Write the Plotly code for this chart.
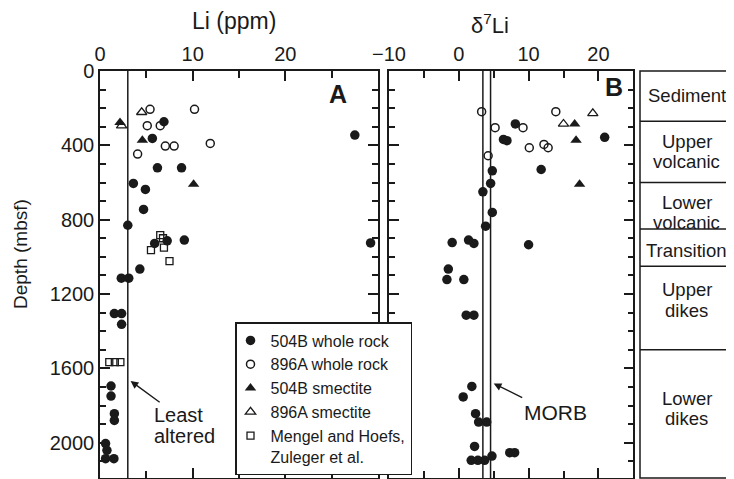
import plotly.graph_objects as go

# ---------------- data ----------------
# Panel A: Li (ppm) vs depth (mbsf)
a_wr504_li = [6.9, 27.5, 5.65, 6.2, 8.8, 3.6, 4.9, 4.7, 3.0, 5.9, 7.25, 9.1, 29.2, 4.3, 2.3, 3.1,
              1.55, 2.33, 2.33, 1.19, 1.19, 1.55, 1.55, 0.6, 0.75, 0.6, 1.5]
a_wr504_depth = [273, 345, 363, 521, 521, 605, 637, 745, 830, 928, 914, 910, 925, 1066, 1115, 1115,
                 1305, 1305, 1363, 1695, 1749, 1844, 1880, 2005, 2041, 2086, 2086]
a_wr896_li = [5.4, 10.2, 5.1, 6.5, 7.05, 8.0, 11.9, 4.06]
a_wr896_depth = [206, 206, 294, 294, 404, 404, 390, 447]
a_sm504_li = [2.16, 4.57, 10.1]
a_sm504_depth = [277, 372, 609]
a_sm896_li = [4.5, 2.33]
a_sm896_depth = [222, 294]
a_mh_li = [6.5, 6.8, 6.9, 5.5, 7.5, 1.0, 1.6, 2.2]
a_mh_depth = [883, 900, 950, 964, 1023, 1566, 1566, 1566]

# Panel B: d7Li vs depth (mbsf)
b_wr504_d7 = [8.1, 6.4, 6.9, 20.9, 11.8, 4.8, 4.56, 3.45, 4.8, 3.84, -0.95, 1.4, 2.16, 10.0, -1.5,
              -1.7, 0.72, 1.06, 2.16, 1.87, 0.63, 2.4, 2.84, 4.0, 2.26, 1.78, 2.73, 3.7, 4.75, 7.3, 8.0]
b_wr504_depth = [285, 368, 375, 357, 530, 537, 605, 650, 761, 835, 923, 910, 928, 935, 1066,
                 1122, 1122, 1314, 1314, 1697, 1754, 1844, 1889, 1889, 2020, 2095, 2095, 2095, 2072, 2054, 2054]
b_wr896_d7 = [3.27, 13.9, 9.2, 5.2, 10.1, 12.2, 12.8, 4.2]
b_wr896_depth = [219, 219, 305, 305, 413, 395, 413, 456]
b_sm504_d7 = [16.6, 16.8, 17.3]
b_sm504_depth = [285, 372, 609]
b_sm896_d7 = [19.2, 15.0]
b_sm896_depth = [228, 285]

least_altered_li = 3.0
morb_d7 = [3.45, 4.55]

zone_names = [["Sediment"], ["Upper", "volcanic"], ["Lower", "volcanic"], ["Transition"],
              ["Upper", "dikes"], ["Lower", "dikes"]]
zone_bounds = [0, 270, 600, 850, 1050, 1500]
zone_label_depth = [130, 434, 760, 968, 1232, 1815]

depth_ticks = [0, 400, 800, 1200, 1600, 2000]
li_ticks = [0, 10, 20]
d7_ticks = [-10, 0, 10, 20]

# ---------------- figure ----------------
# The page body has an 8 px margin, so the figure is sized/offset to compensate.
FONT = "Liberation Sans, Arial, Helvetica, sans-serif"
INK = "#1a1a1a"
DEPTH_MAX = 2190
W, H = 726, 471
ML, MT, MR, MB = 92, 63, 1, 1
PW = W - ML - MR   # 633
PH = H - MT - MB   # 407
OFF = 8


def px(sx):   # screen x -> paper x
    return (sx - OFF - ML) / PW


def py(sy):   # screen y -> paper y
    return (H - MB - (sy - OFF)) / PH


fig = go.Figure()

styles = {
    "wr504": dict(symbol="circle", size=9.5, color=INK, line=dict(width=0)),
    "wr896": dict(symbol="circle-open", size=8, color=INK, line=dict(width=1.5, color=INK)),
    "sm504": dict(symbol="triangle-up", size=10, color=INK, line=dict(width=0)),
    "sm896": dict(symbol="triangle-up-open", size=9, color=INK, line=dict(width=1.3, color=INK)),
    "mh": dict(symbol="square-open", size=7, color=INK, line=dict(width=1.3, color=INK)),
}
names = {
    "wr504": "504B whole rock",
    "wr896": "896A whole rock",
    "sm504": "504B smectite",
    "sm896": "896A smectite",
    "mh": "Mengel and Hoefs,<br>Zuleger et al.",
}
panel_a = {
    "wr504": (a_wr504_li, a_wr504_depth),
    "wr896": (a_wr896_li, a_wr896_depth),
    "sm504": (a_sm504_li, a_sm504_depth),
    "sm896": (a_sm896_li, a_sm896_depth),
    "mh": (a_mh_li, a_mh_depth),
}
panel_b = {
    "wr504": (b_wr504_d7, b_wr504_depth),
    "wr896": (b_wr896_d7, b_wr896_depth),
    "sm504": (b_sm504_d7, b_sm504_depth),
    "sm896": (b_sm896_d7, b_sm896_depth),
}

for key, (xv, yv) in panel_a.items():
    fig.add_trace(go.Scatter(x=xv, y=yv, mode="markers", marker=styles[key], name=names[key],
                             legendgroup=key, xaxis="x", yaxis="y", cliponaxis=False))
for key, (xv, yv) in panel_b.items():
    fig.add_trace(go.Scatter(x=xv, y=yv, mode="markers", marker=styles[key], name=names[key],
                             legendgroup=key, showlegend=False, xaxis="x2", yaxis="y2", cliponaxis=False))

common_axis = dict(showline=True, linecolor=INK, linewidth=1.5, mirror="allticks", ticks="inside",
                   ticklen=10, tickwidth=1.5, tickcolor=INK, showgrid=False, zeroline=False,
                   automargin=False, tickfont=dict(family=FONT, size=20, color=INK))
minor_x = dict(dtick=5, tick0=0, ticks="inside", ticklen=7, tickwidth=1.5, tickcolor=INK)
minor_y = dict(dtick=100, tick0=0, ticks="inside", ticklen=6, tickwidth=1.5, tickcolor=INK)

fig.update_layout(
    width=W, height=H,
    margin=dict(l=ML, r=MR, t=MT, b=MB, autoexpand=False),
    paper_bgcolor="white", plot_bgcolor="white",
    font=dict(family=FONT, color=INK),
    xaxis=dict(domain=[0, px(378)], range=[0, 30], side="top", anchor="y",
               tickmode="array", tickvals=li_ticks, minor=minor_x, **common_axis),
    yaxis=dict(domain=[0, 1], range=[DEPTH_MAX, 0], anchor="x",
               tickmode="array", tickvals=depth_ticks, minor=minor_y, **common_axis),
    xaxis2=dict(domain=[px(389), px(633.3)], range=[-10, 25], side="top", anchor="y2",
                tickmode="array", tickvals=d7_ticks, minor=minor_x, **common_axis),
    yaxis2=dict(domain=[0, 1], range=[DEPTH_MAX, 0], anchor="x2", matches="y", showticklabels=False,
                tickmode="array", tickvals=depth_ticks, minor=minor_y, **common_axis),
    legend=dict(x=px(235), y=py(322), xanchor="left", yanchor="top", bgcolor="white",
                bordercolor=INK, borderwidth=1.5, font=dict(family=FONT, size=16, color=INK),
                valign="top", itemwidth=30, tracegroupgap=0, indentation=-6),
    showlegend=True,
)

shapes = []
# reference lines
shapes.append(dict(type="line", xref="x", yref="y domain", x0=least_altered_li, x1=least_altered_li,
                   y0=0, y1=1, line=dict(color=INK, width=1.5)))
for v in morb_d7:
    shapes.append(dict(type="line", xref="x2", yref="y2 domain", x0=v, x1=v, y0=0, y1=1,
                       line=dict(color=INK, width=1.5)))
# stratigraphy strip
SX0, SX1 = px(640), px(733)
shapes.append(dict(type="rect", xref="paper", yref="y domain", x0=SX0, x1=SX1, y0=0, y1=1,
                   line=dict(color=INK, width=1.5)))
for b in zone_bounds[1:]:
    shapes.append(dict(type="line", xref="paper", yref="y", x0=SX0, x1=SX1, y0=b, y1=b,
                       line=dict(color=INK, width=1.5)))
fig.update_layout(shapes=shapes)


def text(t, x, y, xref="paper", yref="paper", size=20, xanchor="center", **kw):
    return dict(text=t, x=x, y=y, xref=xref, yref=yref, xanchor=xanchor, yanchor="middle",
                showarrow=False, font=dict(family=FONT, size=size, color=INK), **kw)


ann = []
# axis titles
ann.append(text("Li (ppm)", px(234), py(21), size=23))
ann.append(text("δ<sup>7</sup>Li", px(490), py(24), size=22))
ann.append(text("Depth (mbsf)", px(20), py(254), size=19, textangle=-90))
# panel letters
ann.append(text("<b>A</b>", px(338), py(94), size=25))
ann.append(text("<b>B</b>", px(614), py(87), size=25))
# Least altered
for i, line in enumerate(["Least", "altered"]):
    ann.append(text(line, 5.6, 1851 + i * 112, xref="x", yref="y", size=20, xanchor="left"))
ann.append(dict(text="", xref="x", yref="y", x=3.3, y=1668, axref="x", ayref="y", ax=6.6, ay=1788,
                showarrow=True, arrowhead=2, arrowsize=1.1, arrowwidth=1.4, arrowcolor=INK))
# MORB
ann.append(text("MORB", 9.0, 1835, xref="x2", yref="y2", size=21, xanchor="left"))
ann.append(dict(text="", xref="x2", yref="y2", x=5.0, y=1682, axref="x2", ayref="y2", ax=9.3, ay=1761,
                showarrow=True, arrowhead=2, arrowsize=1.1, arrowwidth=1.4, arrowcolor=INK))
# strip labels
xc = (SX0 + SX1) / 2
for lines, d in zip(zone_names, zone_label_depth):
    n = len(lines)
    for i, line in enumerate(lines):
        off = (i - (n - 1) / 2) * 108
        ann.append(text(line, xc, d + off, yref="y", size=18.5))
fig.update_layout(annotations=ann)

fig.write_html("out.html")
